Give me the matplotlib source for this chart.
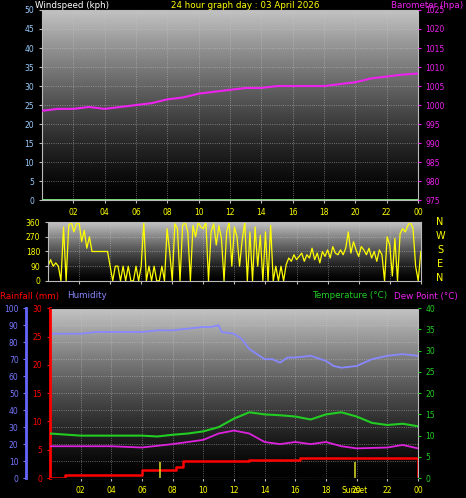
import numpy as np
import matplotlib
matplotlib.use("Agg")
import matplotlib.pyplot as plt

hours_p = [0,1,2,3,4,5,6,7,8,9,10,11,12,13,14,15,16,17,18,19,20,21,22,23,24]
pressure = [998.5,999,999,999.5,999,999.5,1000,1000.5,1001.5,1002,1003,1003.5,1004,1004.5,1004.5,1005,1005,1005,1005,1005.5,1006,1007,1007.5,1008,1008.3]
wind_speed = [0]*25

wind_dir = [90,130,90,110,90,0, 330,0,340,360,300,350, 360,240,310,200,270,180,
            180,180,180,180,180,180, 90,0,90,90,0,90, 0,90,0,0,90,0,
            90,360,0,90,0,90, 0,0,90,0,320,180, 0,350,320,0,340,360,
            300,0,340,270,360,330, 320,360,0,300,350,220, 340,260,0,300,360,90,
            330,270,90,250,360,0, 300,0,330,90,280,0, 300,0,340,0,90,0,
            90,0,100,140,120,160, 130,150,170,120,160,140, 200,130,170,110,180,150,
            190,140,210,170,160,190, 160,200,300,170,240,190, 150,210,190,160,200,140,
            180,120,190,160,0,270, 220,30,260,0,290,320, 300,340,360,320,90,0, 180]

hum_t = [0,1,2,3,4,5,6,7,8,9,10,10.5,11,11.2,12,12.5,13,13.5,14,14.5,15,15.5,16,17,18,18.5,19,20,21,22,23,24]
humidity = [85,85,85,86,86,86,86,87,87,88,89,89,90,86,85,82,76,73,70,70,68,71,71,72,69,66,65,66,70,72,73,72]
temp_t = [0,2,4,6,7,8,9,10,11,12,13,14,15,16,17,18,19,20,21,22,23,24]
temperature = [10.5,10,10,10,9.8,10.2,10.5,11,12,14,15.5,15,14.8,14.5,13.8,15,15.5,14.5,13,12.5,12.8,12.2]
dew_t = [0,4,6,8,9,10,11,12,13,14,15,16,17,18,19,20,22,23,24]
dewpoint = [7.5,7.5,7.2,8,8.5,9,10.5,11.2,10.5,8.5,8,8.5,8,8.5,7.5,7,7.2,7.8,7]
rain_t = [0,1,6,8,8.2,8.7,13,16.3,23.9,24]
rain = [0,0.5,1.5,1.5,2,3,3.2,3.5,3.5,0]
sun_events = [7.2, 19.9]
xticks = [2,4,6,8,10,12,14,16,18,20,22,24]
xlabels = ["02","04","06","08","10","12","14","16","18","20","22","00"]

fig = plt.figure(figsize=(4.66,4.98), dpi=100, facecolor="black")
grad = np.linspace(0,1,256).reshape(-1,1)

def style(ax):
    ax.set_facecolor("black")
    ax.imshow(grad**1.3, extent=[0,1,0,1], transform=ax.transAxes, aspect="auto",
              cmap="gray", vmin=0, vmax=1.3, origin="lower", zorder=0)
    ax.grid(True, color="#cccccc", linestyle=":", linewidth=0.6, alpha=0.6)
    for s in ax.spines.values():
        s.set_color("#bbbbbb")
    ax.set_xlim(0,24)
    ax.set_xticks(xticks)
    ax.tick_params(labelsize=5.5, length=2, colors="#bbbbbb")

fs = 6.3
# Panel 1
ax1 = fig.add_axes([0.09,0.598,0.807,0.382])
style(ax1)
ax1.plot(hours_p, wind_speed, color="#88ee88", lw=2, zorder=3)
ax1.set_ylim(0,50); ax1.set_yticks(range(0,51,5))
ax1.set_xticklabels(xlabels, color="yellow")
ax1.tick_params(axis="x", labelcolor="yellow")
ax1.tick_params(axis="y", labelcolor="#99ccff")
ax1b = ax1.twinx()
ax1b.plot(hours_p, pressure, color="#ee22ee", lw=1.5)
ax1b.set_ylim(975,1025); ax1b.set_yticks(range(975,1026,5))
ax1b.tick_params(labelsize=5.5, length=2, colors="#ee22ee")
for s in ax1b.spines.values(): s.set_visible(False)
fig.text(35/466, 1-5/498, "Windspeed (kph)", color="white", fontsize=fs, va="center")
fig.text(245/466, 1-5/498, "24 hour graph day : 03 April 2026", color="yellow", fontsize=fs, va="center", ha="center")
fig.text(463/466, 1-5/498, "Barometer (hpa)", color="#ee22ee", fontsize=fs, va="center", ha="right")

# Panel 2
ax2 = fig.add_axes([0.103,0.436,0.80,0.118])
style(ax2)
t_dir = np.arange(len(wind_dir))/6
ax2.plot(t_dir, wind_dir, color="yellow", lw=0.9)
ax2.set_ylim(0,360); ax2.set_yticks([0,90,180,270,360])
ax2.set_xticklabels([])
ax2.tick_params(axis="y", labelcolor="yellow")
for i, l in enumerate("NWSEN"):
    fig.text(440/466, 1-(222+i*14)/498, l, color="yellow", fontsize=7, ha="center", va="center")

# Panel 3
ax3 = fig.add_axes([0.107,0.040,0.79,0.341])
style(ax3)
ax3.plot(hum_t, humidity, color="#8888ff", lw=1.3)
ax3.set_ylim(0,100); ax3.set_yticks(range(0,101,10))
ax3.spines["left"].set_position(("outward",17))
ax3.spines["left"].set_color("#6666ff"); ax3.spines["left"].set_linewidth(2)
ax3.tick_params(axis="y", labelcolor="#7777ff", colors="#7777ff")
ax3.set_xticklabels(xlabels, color="yellow")
ax3.tick_params(axis="x", labelcolor="yellow")
axr = ax3.twinx()
axr.yaxis.set_ticks_position("left"); axr.yaxis.set_label_position("left")
axr.spines["left"].set_visible(True); axr.spines["left"].set_color("red")
axr.spines["left"].set_linewidth(2)
axr.spines["right"].set_visible(False)
axr.plot(rain_t, rain, color="red", lw=1.8, drawstyle="steps-post")
axr.vlines(sun_events, 0, 2.8, color="#cccc22", lw=1.2)
axr.set_ylim(0,30); axr.set_yticks(range(0,31,5))
axr.tick_params(labelsize=5.5, length=2, colors="red")
axt = ax3.twinx()
axt.plot(temp_t, temperature, color="#22cc22", lw=1.5)
axt.plot(dew_t, dewpoint, color="#dd22dd", lw=1.3)
axt.set_ylim(0,40); axt.set_yticks(range(0,41,5))
axt.tick_params(labelsize=5.5, length=2, colors="#22cc22")
for s in axt.spines.values(): s.set_visible(False)
ax3.text(19.9, -0.075, "Sunset", transform=ax3.get_xaxis_transform(), color="yellow", fontsize=5.5, ha="center", va="center")
fig.text(0, 1-296/498, "Rainfall (mm)", color="red", fontsize=fs, va="center")
fig.text(67/466, 1-296/498, "Humidity", color="#8888ff", fontsize=fs, va="center")
fig.text(312/466, 1-296/498, "Temperature (°C)", color="#22cc22", fontsize=fs, va="center")
fig.text(394/466, 1-296/498, "Dew Point (°C)", color="#ee22ee", fontsize=fs, va="center")

fig.savefig("out.png", dpi=100, facecolor="black")
